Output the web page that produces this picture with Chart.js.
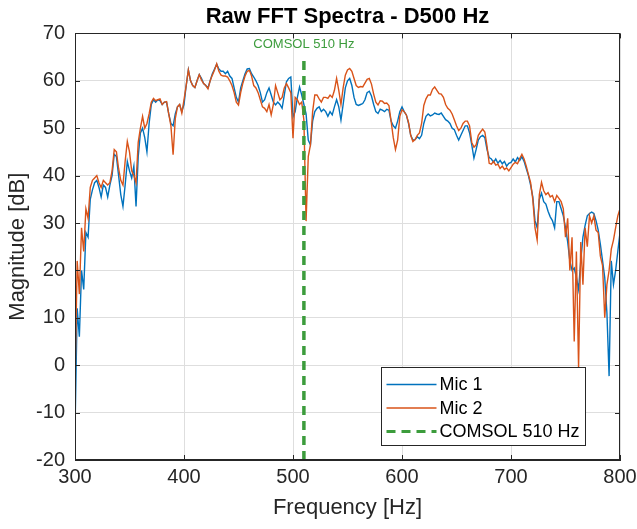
<!DOCTYPE html>
<html>
<head>
<meta charset="utf-8">
<script src="https://cdn.jsdelivr.net/npm/chart.js@4.4.1/dist/chart.umd.min.js"></script>
<style>
  html, body { margin: 0; padding: 0; background: #ffffff; }
  #wrap { width: 637px; height: 529px; }
</style>
</head>
<body>
<div id="wrap"><canvas id="c" width="637" height="529"></canvas></div>
<script>
const freqHz = [
  300,302,304,306,308,310,312,314,316,318,
  320,322,324,326,328,330,332,334,336,338,
  340,342,344,346,348,350,352,354,356,358,
  360,362,364,366,368,370,372,374,376,378,
  380,382,384,386,388,390,392,394,396,398,
  400,402,404,406,408,410,412,414,416,418,
  420,422,424,426,428,430,432,434,436,438,
  440,442,444,446,448,450,452,454,456,458,
  460,462,464,466,468,470,472,474,476,478,
  480,482,484,486,488,490,492,494,496,498,
  500,502,504,506,508,510,512,514,516,518,
  520,522,524,526,528,530,532,534,536,538,
  540,542,544,546,548,550,552,554,556,558,
  560,562,564,566,568,570,572,574,576,578,
  580,582,584,586,588,590,592,594,596,598,
  600,602,604,606,608,610,612,614,616,618,
  620,622,624,626,628,630,632,634,636,638,
  640,642,644,646,648,650,652,654,656,658,
  660,662,664,666,668,670,672,674,676,678,
  680,682,684,686,688,690,692,694,696,698,
  700,702,704,706,708,710,712,714,716,718,
  720,722,724,726,728,730,732,734,736,738,
  740,742,744,746,748,750,752,754,756,758,
  760,762,764,766,768,770,772,774,776,778,
  780,782,784,786,788,790,792,794,796,798,
  800
];
const mic1Db = [
  -14,12,6,20,16,28,27,35,37,38.5,
  39,37.5,35.5,38,37.5,35.5,38,40,44.5,44,
  40,36,33.5,38,43,41,39.5,42,33.5,44,
  49,50,48,45,51,55,56,55.5,56,55.8,
  55,55.5,55.5,53,51,50.5,53,54.5,55,53.5,
  55,59,62.3,60,59,58.6,60,61.3,60.5,59.4,
  59,58.5,60,61.5,62.5,63.5,62.5,62,62,61.5,
  62,61,60.5,58.5,56.5,55.5,58.5,60,61.5,62.5,
  62.6,61.5,60.8,60,59,57.5,55.5,56,57.5,58.5,
  57,55.5,54.9,55.5,55,54.2,57,59.8,60.5,60.8,
  52.4,53.5,56.5,58.7,57,55,53,47.5,46.5,51.5,
  53.5,54.2,54.5,53.5,54,53.5,52.5,53.5,52.8,54.5,
  56,54.5,51.7,55,58.5,60,60.5,59,56.5,55,
  54.8,55,55.2,56,57.5,57.8,56.8,55,53.5,53.1,
  54,53.8,53.5,54,53.8,51.5,50.5,50,51.5,53.5,
  54.5,53.5,52.8,51,48.5,47.5,47.6,48.2,47.8,48.5,
  51,52.5,53,52.6,52.8,53.2,53,52.9,53.2,52.5,
  51.8,51.5,51,50,49.7,48.5,47.5,48.5,49.5,50.5,
  50.5,49,46.5,43.7,45.5,47.5,48.2,48.5,48,45.5,
  43.8,43.5,42.8,43.5,42.6,43.2,42.5,43,42,42.6,
  42.8,43.5,42.9,43.8,43.2,44,43,41.5,40,38,
  35.5,30.5,29,35,36.3,34.5,34,32.5,31.3,30.5,
  29,34.5,34.5,33,31.5,29,26,22,20,20.5,
  18.5,16,22,27,29.5,31.5,32,32.3,32,30.5,
  28.5,25.5,22,18.5,11,-2.3,22,17,20,24,
  28
];
const mic2Db = [
  -4,22,15,29,24,33,31,37.5,39,39.5,
  40,38.5,37.5,39,38.5,38,38.5,41,45.5,45,
  41.5,39,38,43,47.2,45,41,40,38.5,47,
  50,52.5,50,51,53,55.5,56.3,55.8,56,56.2,
  55,55.5,55.6,53,50.5,44.4,52,54.5,55,53.2,
  56,59,62.3,60,59,58.6,60,61.3,60.2,59.4,
  59,58.3,60,61.2,62.3,63.6,62,61.2,61,61,
  60.8,60,59,57.5,55.5,54.9,57.5,59.5,61,62,
  62.2,61,59,58.5,57.5,56,54.5,54.2,53.5,55,
  52.8,55,59,57.5,56,56.5,58.5,59.4,58.5,57.5,
  47.9,56.5,56,55,55.5,51.7,30.4,44,46.5,53.5,
  57,57,56.2,55.5,56.5,56.5,56.3,57,56.5,58,
  60.5,58,55,58.5,61.2,62.3,62.6,62,60.5,59,
  58.6,58.8,58.7,59.5,60.3,60.5,59.3,57.2,55.5,54.9,
  55.8,55.7,55.2,55.3,54.8,51.5,48,45.5,47.5,52.5,
  53.9,53.5,52.8,51.2,48.5,47.2,47.6,48.5,49,51,
  54.8,56.2,57,57,58.2,58.7,58,57.3,57.2,56.5,
  55,54.2,53.8,53,51.8,50.5,49.5,50,51,51.5,
  51.5,50.5,47,46,46.5,48.5,49.2,49.8,49.2,46.2,
  42.6,42.4,43,42.2,42.4,41.5,42,41.3,41.6,41,
  41.7,42.4,42.8,42.5,43.6,44.5,43.5,42,40.2,38.5,
  35,29,26.4,36,38.6,36.8,36,36.4,35.5,35.8,
  34.5,35.8,35.2,34.5,33,27,31,20,27,5,
  24,-0.5,26,17,29,25,31.5,30,31.5,28.5,
  28,23,21,10,17,20,24.5,26.4,29,31.5,
  33
];
const comsolFreqHz = [510, 510];
const comsolDb = [-20, 65];
const xTickValues = [300, 400, 500, 600, 700, 800];
const yTickValues = [-20, -10, 0, 10, 20, 30, 40, 50, 60, 70];

const FONT = "'Liberation Sans', Arial, Helvetica, sans-serif";
const BLUE = '#0072BD';
const ORANGE = '#D95319';
const GREEN = '#3c9c3c';
const AXIS = '#262626';

const toPts = (xs, ys) => xs.map((x, i) => ({ x: x, y: ys[i] }));

const framePlugin = {
  id: 'matlabFrame',
  afterDatasetsDraw(chart) {
    const { ctx, chartArea: a, scales } = chart;
    const xs = scales.x, ys = scales.y;
    ctx.save();
    // COMSOL annotation text
    ctx.fillStyle = GREEN;
    ctx.font = '13px ' + FONT;
    ctx.textAlign = 'center';
    ctx.textBaseline = 'middle';
    ctx.fillText('COMSOL 510 Hz', xs.getPixelForValue(510), ys.getPixelForValue(67.6));
    // frame
    ctx.strokeStyle = AXIS;
    ctx.lineWidth = 1;
    ctx.strokeRect(Math.round(a.left) + 0.5, Math.round(a.top) + 0.5,
      Math.round(a.right - a.left) - 1, Math.round(a.bottom - a.top) - 1);
    // inward ticks
    const tl = 5;
    ctx.beginPath();
    xTickValues.forEach(v => {
      const px = Math.round(xs.getPixelForValue(v)) + 0.5;
      ctx.moveTo(px, a.bottom); ctx.lineTo(px, a.bottom - tl);
      ctx.moveTo(px, a.top); ctx.lineTo(px, a.top + tl);
    });
    yTickValues.forEach(v => {
      const py = Math.round(ys.getPixelForValue(v)) + 0.5;
      ctx.moveTo(a.left, py); ctx.lineTo(a.left + tl, py);
      ctx.moveTo(a.right, py); ctx.lineTo(a.right - tl, py);
    });
    ctx.stroke();

    // legend box (MATLAB style, inside axes)
    const ds = chart.data.datasets;
    const boxW = 204, boxH = 78;
    const bx = Math.round(a.right - 35 - boxW) + 0.5;
    const by = Math.round(a.bottom - 15 - boxH) + 0.5;
    ctx.fillStyle = '#ffffff';
    ctx.fillRect(bx, by, boxW, boxH);
    ctx.strokeStyle = AXIS;
    ctx.lineWidth = 1;
    ctx.strokeRect(bx, by, boxW, boxH);
    ctx.font = '18px ' + FONT;
    ctx.textAlign = 'left';
    ctx.textBaseline = 'middle';
    ds.forEach((d, i) => {
      const cy = by + 17 + i * 23.5;
      ctx.save();
      ctx.strokeStyle = d.borderColor;
      ctx.lineWidth = Math.min(d.borderWidth, 3);
      ctx.setLineDash(d.borderDash || []);
      ctx.beginPath();
      ctx.moveTo(bx + 5, cy);
      ctx.lineTo(bx + 55, cy);
      ctx.stroke();
      ctx.restore();
      ctx.fillStyle = '#000000';
      ctx.fillText(d.label, bx + 58, cy + 1);
    });
    ctx.restore();
  }
};

new Chart(document.getElementById('c'), {
  type: 'line',
  data: {
    datasets: [
      { label: 'Mic 1', data: toPts(freqHz, mic1Db), borderColor: BLUE, backgroundColor: BLUE,
        borderWidth: 1.4, pointRadius: 0, tension: 0, order: 3 },
      { label: 'Mic 2', data: toPts(freqHz, mic2Db), borderColor: ORANGE, backgroundColor: ORANGE,
        borderWidth: 1.4, pointRadius: 0, tension: 0, order: 2 },
      { label: 'COMSOL 510 Hz', data: toPts(comsolFreqHz, comsolDb), borderColor: GREEN, backgroundColor: GREEN,
        borderWidth: 3.5, borderDash: [9, 6], pointRadius: 0, tension: 0, order: 1 }
    ]
  },
  options: {
    responsive: false,
    animation: false,
    devicePixelRatio: 1,
    layout: { padding: { left: 0, right: 17, top: 0, bottom: 0 } },
    plugins: {
      legend: { display: false },
      tooltip: { enabled: false },
      title: {
        display: true,
        fullSize: false,
        text: 'Raw FFT Spectra - D500 Hz',
        color: '#000000',
        font: { family: FONT, size: 22, weight: 'bold' },
        padding: { top: 4, bottom: 3 }
      }
    },
    scales: {
      x: {
        type: 'linear', min: 300, max: 800,
        afterBuildTicks: s => { s.ticks = xTickValues.map(v => ({ value: v })); },
        afterFit: s => { s.height = 69; s.paddingLeft = 0; s.paddingRight = 0; },
        grid: { color: '#dedede', lineWidth: 1, drawTicks: false },
        border: { display: true, color: AXIS, width: 1 },
        ticks: { color: '#262626', font: { family: FONT, size: 20 }, padding: 5, maxRotation: 0 },
        title: { display: true, text: 'Frequency [Hz]', color: '#262626',
          font: { family: FONT, size: 22 }, padding: { top: 0, bottom: 8 } }
      },
      y: {
        type: 'linear', min: -20, max: 70,
        afterBuildTicks: s => { s.ticks = yTickValues.map(v => ({ value: v })); },
        afterFit: s => { s.width = 75; s.paddingTop = 0; s.paddingBottom = 0; },
        grid: { color: '#dedede', lineWidth: 1, drawTicks: false },
        border: { display: true, color: AXIS, width: 1 },
        ticks: { color: '#262626', font: { family: FONT, size: 20 }, padding: 10 },
        title: { display: true, text: 'Magnitude [dB]', color: '#262626',
          font: { family: FONT, size: 22 }, padding: { top: 5, bottom: 0 } }
      }
    }
  },
  plugins: [framePlugin]
});
</script>
</body>
</html>
